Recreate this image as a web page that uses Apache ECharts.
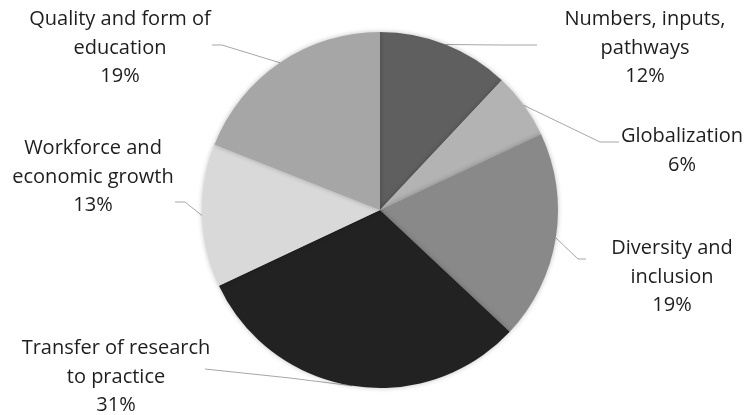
<!DOCTYPE html>
<html>
<head>
<meta charset="utf-8">
<script src="https://cdn.jsdelivr.net/npm/echarts@6/dist/echarts.min.js"></script>
<style>html,body{margin:0;padding:0;background:#fff}#c{width:748px;height:415px}</style>
</head>
<body>
<div id="c"></div>
<script>
const categories = ["Numbers, inputs,\npathways", "Globalization", "Diversity and\ninclusion", "Transfer of research\nto practice", "Workforce and\neconomic growth", "Quality and form of\neducation"];
const values = [12, 6, 19, 31, 13, 19];
const colors = ["#5f5f5f", "#b3b3b3", "#898989", "#222222", "#d9d9d9", "#a6a6a6"];
// label placement (layout only)
const labelPos = [[645, 48], [682, 151], [672, 277], [116, 377], [93, 177], [120, 48]];
// label-line bend / end points (layout only)
const lineBend = [[500, 45], [600, 142], [578, 259], [290, 378], [185, 202], [222, 45]];
const lineEnd = [[537, 45], [619, 142], [586, 259], [205, 369], [175, 202], [212, 45]];

const chart = echarts.init(document.getElementById('c'));
chart.setOption({
  animation: false,
  series: [{
    type: 'pie',
    center: [380, 210],
    radius: 178,
    startAngle: 90,
    clockwise: true,
    data: categories.map((n, i) => ({ name: n, value: values[i], itemStyle: { color: colors[i] } })),
    itemStyle: { shadowBlur: 5, shadowColor: 'rgba(0,0,0,0.25)' },
    label: {
      show: true,
      formatter: '{b}\n{d}%',
      fontFamily: 'Open Sans',
      fontSize: 20,
      lineHeight: 28.5,
      color: '#1e1e1e',
      align: 'center'
    },
    labelLine: { show: true, length: 10, length2: 20, lineStyle: { color: '#a6a6a6', width: 1 } },
    labelLayout: function (p) {
      const i = p.dataIndex;
      const pos = labelPos[i];
      const start = p.labelLinePoints ? p.labelLinePoints[0] : null;
      const out = { x: pos[0], y: pos[1], align: 'center', verticalAlign: 'middle' };
      if (start) out.labelLinePoints = [start, lineBend[i], lineEnd[i]];
      return out;
    }
  }]
});
</script>
</body>
</html>
